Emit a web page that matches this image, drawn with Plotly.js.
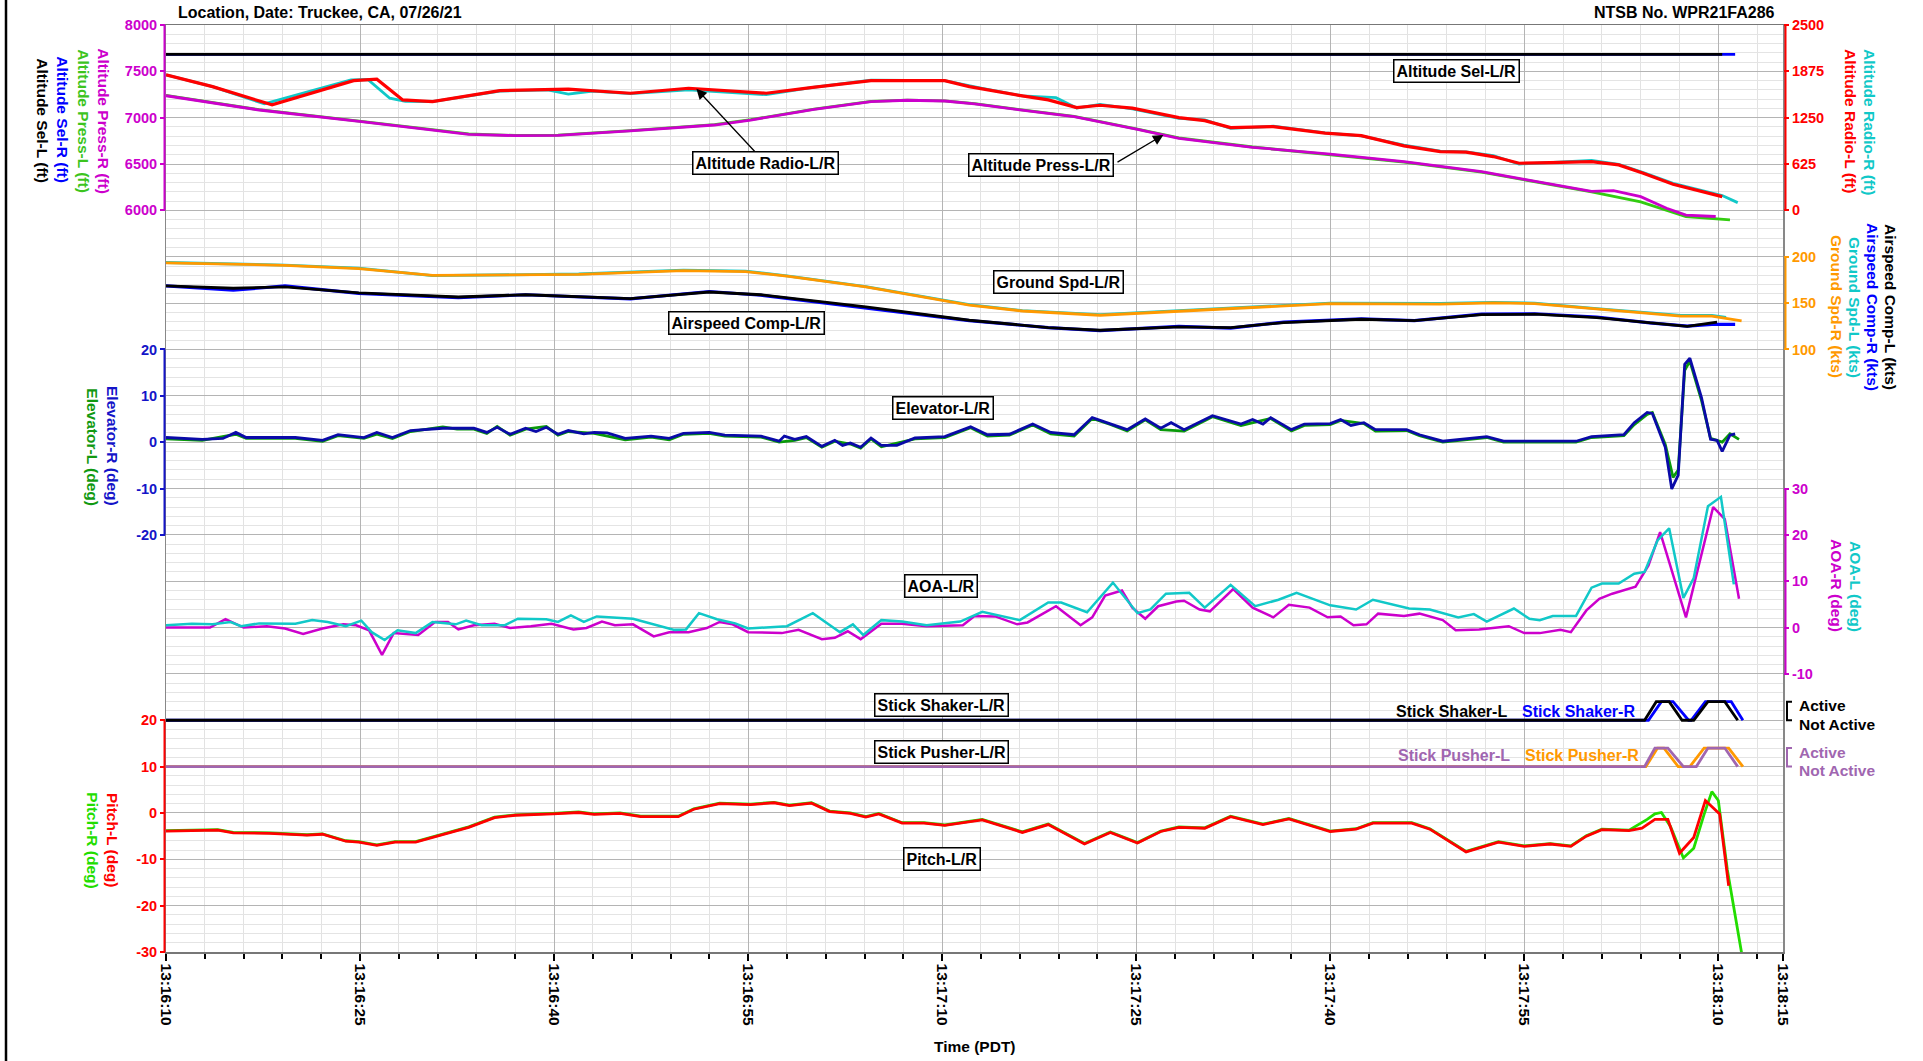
<!DOCTYPE html>
<html><head><meta charset="utf-8">
<script src="https://cdn.plot.ly/plotly-3.0.1.min.js"></script>
<style>html,body{margin:0;padding:0;background:#fff;}#chart{width:1923px;height:1061px;}</style>
</head><body><div id="chart"></div>
<script>
// ---------- time axis (seconds after 13:16:10) ----------
const TICK_SEC = [0, 15, 30, 45, 60, 75, 90, 105, 120, 125];
const TICK_LABELS = ['13:16:10','13:16:25','13:16:40','13:16:55','13:17:10','13:17:25','13:17:40','13:17:55','13:18:10','13:18:15'];

// ---------- axis tick values ----------
const ALT_TICKS = [6000, 6500, 7000, 7500, 8000];
const RADIO_TICKS = [0, 625, 1250, 1875, 2500];
const SPD_TICKS = [100, 150, 200];
const ELEV_TICKS = [-20, -10, 0, 10, 20];
const AOA_TICKS = [-10, 0, 10, 20, 30];
const PITCH_TICKS = [-30, -20, -10, 0, 10, 20];

// ---------- Altitude Sel (ft) ----------
const ALT_SEL_L_T = [0, 120.3];
const ALT_SEL_L = [7684, 7684];
const ALT_SEL_R_T = [0, 121.3];
const ALT_SEL_R = [7684, 7684];

// ---------- Altitude Press (ft) ----------
const PRESS_R_T = [0, 7.2, 15.1, 18.1, 23.4, 27, 30.3, 35.9, 42.4, 45.2, 50.1, 54.5, 57.3, 60.2, 62.5, 66, 70.2, 75.1, 78.3, 84, 90, 95.7, 101.7, 105, 110.2, 111.9, 114, 116, 117.5, 119.8];
const PRESS_R = [7237, 7083, 6957, 6910, 6821, 6806, 6810, 6857, 6921, 6975, 7090, 7173, 7188, 7180, 7150, 7085, 7011, 6875, 6778, 6681, 6608, 6525, 6418, 6335, 6205, 6213, 6148, 6023, 5950, 5934];
const PRESS_L_T = [0, 7.2, 15.1, 18.1, 23.4, 27, 30.3, 35.9, 42.4, 45.2, 50.1, 54.5, 57.3, 60.2, 62.5, 66, 70.2, 75.1, 78.3, 84, 90, 95.7, 101.7, 105, 110.2, 114, 117.5, 120.9];
const PRESS_L = [7240, 7086, 6960, 6914, 6825, 6808, 6812, 6860, 6925, 6978, 7093, 7176, 7190, 7182, 7152, 7088, 7014, 6878, 6782, 6684, 6602, 6520, 6412, 6330, 6200, 6092, 5934, 5897];

// ---------- Altitude Radio (ft) ----------
const RADIO_L_T = [0, 3.6, 8.2, 14.5, 16.3, 18.3, 20.6, 25.8, 31.1, 35.9, 40.4, 46.4, 50, 54.5, 60.2, 62.1, 66.2, 68.2, 70.4, 72.2, 74.7, 78.3, 80.3, 82.3, 85.6, 89.6, 92.4, 95.7, 98.5, 100.5, 102.6, 104.6, 107, 110.2, 112.3, 114.2, 116.5, 118.5, 120.3];
const RADIO_L = [1827, 1669, 1423, 1750, 1769, 1490, 1467, 1615, 1634, 1580, 1647, 1580, 1660, 1750, 1750, 1669, 1544, 1490, 1386, 1418, 1378, 1251, 1211, 1117, 1130, 1041, 1009, 870, 793, 786, 726, 636, 645, 658, 614, 502, 353, 267, 186];
const RADIO_R_T = [0, 3.6, 7.6, 14.3, 15.6, 17.3, 18.5, 20.6, 25.8, 29.5, 31.1, 33, 35.9, 40.4, 46.4, 50, 54.5, 60.2, 63.0, 66.2, 68.8, 70.4, 72.2, 74.7, 78.3, 80.3, 82.3, 85.6, 89.6, 92.4, 95.7, 98.5, 100.5, 102.6, 104.6, 107, 110.2, 112.3, 114.2, 116.5, 118.5, 120.3, 121.5];
const RADIO_R = [1827, 1669, 1437, 1760, 1765, 1513, 1470, 1467, 1610, 1625, 1567, 1610, 1575, 1625, 1560, 1660, 1755, 1750, 1650, 1544, 1520, 1380, 1430, 1370, 1240, 1220, 1105, 1135, 1045, 1005, 880, 800, 790, 740, 625, 650, 675, 620, 510, 365, 275, 200, 105];

// ---------- Ground Spd (kts) ----------
const GSPD_R_T = [0, 9.2, 14.9, 20.6, 31.9, 40, 44.8, 48, 54.1, 62.1, 66.2, 72.2, 78.3, 84, 90, 98.5, 102.6, 105.8, 110.6, 117.1, 119.5, 121.8];
const GSPD_R = [193.3, 190.8, 187.2, 180, 181, 185, 184, 179, 167.4, 147.7, 141.5, 136.9, 141.2, 145.5, 149.5, 149, 150.2, 149.5, 143.5, 136, 136, 130.8];
const GSPD_L_T = [0, 9.2, 14.9, 20.6, 31.9, 40, 44.8, 48, 54.1, 62.1, 66.2, 72.2, 78.3, 84, 90, 98.5, 102.6, 105.8, 110.6, 117.1, 119.5, 120.6];
const GSPD_L = [193.8, 191, 187.8, 179.6, 181.4, 185.5, 184.6, 179.4, 167.9, 148.3, 141.9, 137.5, 141.8, 146, 150, 149.6, 150.8, 150, 144, 136.7, 136.8, 134.5];

// ---------- Airspeed Comp (kts) ----------
const ASPD_L_T = [0, 5.2, 9.2, 14.9, 22.6, 27.8, 35.9, 42, 46, 54.1, 62.1, 68.2, 72.2, 78.3, 82.3, 86.4, 92.4, 96.5, 101.7, 105.8, 110.6, 114.7, 117.6, 119.9];
const ASPD_L = [168.5, 166, 167.6, 161, 156.6, 159, 154.9, 162, 159, 145.9, 131.5, 123.6, 120.7, 124.3, 123.6, 129, 132.6, 131, 137.5, 138, 134.4, 128.6, 125, 129.5];
const ASPD_R_T = [0, 5.2, 9.2, 14.9, 22.6, 27.8, 35.9, 42, 46, 54.1, 62.1, 68.2, 72.2, 78.3, 82.3, 86.4, 92.4, 96.5, 101.7, 105.8, 110.6, 114.7, 117.6, 119.5, 121.3];
const ASPD_R = [168.5, 163.9, 168.5, 160.5, 156, 159, 154.5, 162.5, 158.5, 145, 131, 123.6, 120.2, 124.8, 123, 129.5, 133, 131, 138, 138.5, 135, 128.6, 125.2, 127, 127];

// ---------- Elevator (deg) ----------
const ELEV_R_T = [0, 2.8, 4.4, 5.4, 6.2, 10, 12.1, 13.3, 15.3, 16.3, 17.5, 18.9, 21.4, 23.8, 24.8, 25.6, 26.6, 27.8, 28.6, 29.4, 30.3, 31.1, 32.3, 33.1, 34.1, 35.5, 37.5, 38.9, 40, 42, 43.2, 46, 47.4, 47.8, 48.6, 49.5, 50.7, 51.7, 52.3, 52.9, 53.7, 54.5, 55.3, 56.5, 57.9, 60.2, 62.2, 63.5, 65.2, 67, 68.4, 70.2, 71.6, 73, 74.3, 75.7, 76.9, 77.7, 78.7, 80.9, 83.1, 84, 84.8, 85.4, 87, 88, 90, 90.8, 91.6, 92.6, 93.5, 95.9, 96.9, 98.7, 102.1, 103.4, 109, 110.2, 112.7, 113.5, 114.5, 114.9, 115.9, 116.4, 116.9, 117.4, 117.8, 118.7, 119.4, 119.9, 120.3, 120.9, 121.3];
const ELEV_R = [1.0, 0.6, 0.8, 2.1, 1.0, 1.0, 0.4, 1.6, 1.0, 2.1, 1.0, 2.5, 3.0, 3.0, 2.1, 3.2, 1.7, 3.0, 2.3, 3.2, 1.7, 2.5, 1.8, 2.1, 2.0, 0.8, 1.3, 0.8, 1.9, 2.1, 1.5, 1.3, 0.2, 1.3, 0.6, 1.2, -0.9, 0.4, -0.7, -0.2, -1.1, 0.9, -0.7, -0.7, 0.9, 1.2, 3.3, 1.6, 1.7, 3.9, 2.1, 1.6, 5.3, 4.0, 2.7, 5.0, 3.0, 4.2, 2.7, 5.7, 3.9, 4.9, 3.9, 5.3, 2.7, 3.9, 4.0, 4.9, 3.6, 4.2, 2.7, 2.7, 1.6, 0.2, 1.2, 0.2, 0.2, 1.2, 1.6, 4.2, 6.4, 6.2, -1.1, -10.1, -7.1, 16.8, 18.1, 9.6, 0.6, 0.4, -2.0, 1.5, 1.8];
const ELEV_L_T = [0, 2.8, 5.4, 6.2, 10, 12.1, 13.3, 15.3, 16.3, 17.5, 18.9, 21.4, 22.5, 23.8, 24.8, 25.6, 26.6, 27.8, 29.4, 30.3, 31.1, 33.1, 35.5, 37.5, 38.9, 40, 42, 43.2, 46, 47.4, 48.6, 49.5, 50.7, 51.7, 52.9, 53.7, 54.5, 55.3, 57.9, 60.2, 62.2, 63.5, 65.2, 67, 68.4, 70.2, 71.6, 73, 74.3, 75.7, 76.9, 78.7, 80.9, 83.1, 85.4, 87, 88, 90, 90.8, 92.6, 93.5, 95.9, 96.9, 98.7, 102.1, 103.4, 109, 110.2, 112.7, 113.5, 114.5, 114.9, 115.9, 116.5, 116.9, 117.4, 117.8, 118.7, 119.4, 120.3, 120.9, 121.6];
const ELEV_L = [0.7, 0.4, 1.7, 0.8, 0.8, 0.2, 1.4, 0.8, 1.7, 0.8, 2.3, 3.3, 2.8, 2.8, 1.9, 3.4, 1.5, 2.8, 3.4, 1.5, 2.3, 1.9, 0.5, 1.1, 0.5, 1.7, 1.9, 1.3, 1.1, 0.0, 0.4, 1.0, -1.1, 0.2, -0.4, -1.3, 0.7, -1.0, 0.7, 1.0, 3.1, 1.3, 1.5, 3.7, 1.8, 1.3, 5.1, 3.8, 2.4, 4.8, 2.7, 2.4, 5.5, 3.6, 5.1, 2.4, 3.6, 3.8, 4.7, 4.0, 2.4, 2.5, 1.4, 0.0, 1.0, 0.0, 0.0, 1.0, 1.4, 3.8, 6.0, 6.4, -0.5, -7.6, -6.0, 15.5, 17.5, 9.0, 0.8, 0.0, 1.8, 0.6];

// ---------- AOA (deg) ----------
const AOA_R_T = [0, 3.4, 4.6, 6, 7.8, 9.2, 10.6, 12.1, 13.7, 14.7, 15.7, 16.7, 17.6, 19.5, 20.8, 21.8, 22.6, 23.8, 25.4, 26.6, 28.2, 29.8, 31.5, 32.5, 33.7, 34.7, 36.1, 37.7, 38.9, 40.4, 41.8, 42.8, 43.8, 45, 47.6, 48.9, 50.7, 51.7, 52.7, 53.7, 55.3, 56.9, 58.8, 61.6, 62.5, 64.1, 65.8, 66.6, 68.8, 70.7, 71.6, 72.6, 73.9, 74.7, 75.7, 76.7, 78.1, 78.7, 79.9, 80.7, 82.5, 84, 85.6, 86.8, 88.4, 89.8, 90.8, 91.8, 92.8, 93.7, 95.7, 96.9, 98.7, 99.7, 101.5, 103.8, 105, 106.2, 107.8, 108.6, 109.8, 110.8, 111.8, 113.6, 114.6, 115.5, 117.5, 119.6, 120.5, 121.6];
const AOA_R = [0, 0, 1.8, 0, 0.3, -0.2, -1.4, -0.2, 0.7, 0.5, -0.6, -5.9, -1.2, -1.6, 1.2, 1.2, -0.4, 0.5, 0.8, -0.1, 0.3, 0.8, -0.4, -0.1, 1.3, 0.5, 0.7, -1.9, -1.0, -1.0, -0.1, 1.2, 0.7, -1.0, -1.2, -0.5, -2.5, -2.2, -0.8, -2.5, 0.8, 0.8, 0.3, 0.5, 2.5, 2.4, 0.7, 1.1, 4.6, 0.5, 2.2, 6.9, 8.0, 4.3, 1.9, 4.6, 5.6, 5.8, 3.9, 3.5, 8.3, 4.3, 2.2, 4.9, 4.3, 2.2, 2.4, 0.5, 0.7, 3.0, 2.5, 3.0, 1.6, -0.6, -0.4, 0.3, -1.2, -1.2, -0.5, -1.0, 3.7, 6.2, 7.3, 8.8, 13.4, 20.6, 2.2, 26.0, 23.4, 6.2];
const AOA_L_T = [0, 2, 3.6, 5, 5.8, 7.2, 10, 11.3, 12.5, 13.9, 15.1, 15.9, 16.9, 17.9, 19.3, 20.6, 22.4, 23.2, 24.4, 26.2, 27.2, 29.4, 30.3, 31.3, 32.3, 33.3, 36.1, 37.5, 39.3, 40.2, 41.2, 42.6, 44, 45, 48, 50, 52.1, 53.1, 53.9, 55.3, 56.9, 58.8, 61.4, 63.1, 66, 68.2, 69.2, 71.2, 73.2, 75.1, 76.1, 77.3, 79.1, 80.3, 82.3, 84.2, 86, 87.4, 90, 92, 93.3, 96.1, 97.7, 99.9, 101.1, 102.1, 104.2, 105.4, 106.2, 107.2, 109, 110.2, 111, 112.3, 113.5, 114.3, 115.3, 116.2, 117.3, 118.1, 119.2, 120.2, 121.2];
const AOA_L = [0.5, 0.8, 0.7, 1.2, 0.3, 0.9, 0.8, 1.6, 1.2, 0.3, 1.5, -1.0, -2.7, -0.6, -1.2, 1.2, 0.7, 1.5, 0.5, 0.5, 1.9, 1.8, 1.2, 2.6, 1.2, 2.4, 1.9, 0.9, -0.5, -0.4, 3.1, 1.8, 0.9, -0.2, 0.3, 3.1, -1.0, 0.7, -1.6, 1.6, 1.3, 0.5, 1.3, 3.4, 1.6, 5.4, 5.4, 3.3, 9.7, 3.1, 3.9, 7.3, 7.5, 4.3, 9.2, 4.6, 6.0, 7.5, 4.8, 3.9, 6.0, 4.1, 3.9, 2.2, 2.9, 1.3, 4.1, 1.9, 1.6, 2.5, 2.5, 8.6, 9.5, 9.5, 11.6, 12.0, 18.8, 21.4, 6.4, 10.7, 26.2, 28.2, 9.3];

// ---------- Stick Shaker / Pusher (0 = Not Active, 1 = Active) ----------
const SHAKER_L_T = [0, 114.3, 115.2, 116.2, 117.2, 118.1, 119.2, 120.5, 121.5];
const SHAKER_L = [0, 0, 1, 1, 0, 0, 1, 1, 0];
const SHAKER_R_T = [0, 114.6, 115.6, 116.5, 117.7, 117.9, 119.0, 121.0, 121.9];
const SHAKER_R = [0, 0, 1, 1, 0, 0, 1, 1, 0];
const PUSHER_L_T = [0, 114.3, 115.1, 116.1, 117.3, 118.3, 119.2, 120.5, 121.5];
const PUSHER_L = [0, 0, 1, 1, 0, 0, 1, 1, 0];
const PUSHER_R_T = [0, 114.4, 115.3, 115.8, 116.9, 117.8, 118.9, 120.8, 121.9];
const PUSHER_R = [0, 0, 1, 1, 0, 0, 1, 1, 0];

// ---------- Pitch (deg) ----------
const PITCH_L_T = [0, 4, 5.2, 8, 10.9, 12.1, 13.9, 14.9, 16.3, 17.7, 19.3, 20.9, 23.4, 25.4, 27, 29.9, 31.9, 33.1, 35.1, 36.7, 39.6, 40.8, 42.8, 45.2, 47, 48.2, 49.9, 51.3, 52.9, 54.1, 55.1, 56.9, 58.6, 60.2, 63.1, 66.2, 68.2, 71, 73, 75.1, 76.9, 78.3, 80.3, 82.3, 84.8, 86.8, 90, 92, 93.3, 96.3, 97.7, 100.5, 103, 105, 107, 108.6, 109.8, 111, 113.1, 114.1, 115.1, 116.1, 117, 118.1, 119, 120.1, 120.8];
const PITCH_L = [-3.9, -3.7, -4.3, -4.4, -4.8, -4.6, -6.1, -6.3, -7.0, -6.3, -6.3, -5.0, -3.1, -1.0, -0.5, -0.2, 0.1, -0.3, -0.1, -0.8, -0.8, 0.8, 2.0, 1.8, 2.2, 1.6, 2.1, 0.3, -0.1, -0.9, -0.2, -2.2, -2.2, -2.7, -1.5, -4.2, -2.5, -6.7, -4.2, -6.5, -4.0, -3.1, -3.3, -0.8, -2.5, -1.3, -4.0, -3.5, -2.2, -2.2, -3.5, -8.4, -6.3, -7.2, -6.7, -7.2, -5.0, -3.6, -3.8, -3.3, -1.4, -1.4, -8.7, -5.3, 2.7, -0.2, -15.7];
const PITCH_R_T = [0, 4, 5.2, 8, 10.9, 12.1, 13.9, 14.9, 16.3, 17.7, 19.3, 20.9, 23.4, 25.4, 27, 29.9, 31.9, 33.1, 35.1, 36.7, 39.6, 40.8, 42.8, 45.2, 47, 48.2, 49.9, 51.3, 52.9, 54.1, 55.1, 56.9, 58.6, 60.2, 63.1, 66.2, 68.2, 71, 73, 75.1, 76.9, 78.3, 80.3, 82.3, 84.8, 86.8, 90, 92, 93.3, 96.3, 97.7, 100.5, 103, 105, 107, 108.6, 109.8, 111, 113.1, 114.5, 115.1, 115.6, 116.3, 117.3, 118.1, 118.9, 119.5, 120, 120.7, 121.8];
const PITCH_R = [-3.8, -3.6, -4.2, -4.3, -4.7, -4.5, -6.0, -6.2, -6.9, -6.2, -6.2, -4.9, -3.0, -0.9, -0.4, -0.1, 0.2, -0.2, 0.0, -0.7, -0.7, 0.9, 2.1, 1.9, 2.3, 1.7, 2.2, 0.4, 0.0, -0.8, -0.1, -2.1, -2.1, -2.6, -1.4, -4.1, -2.4, -6.6, -4.1, -6.4, -3.9, -3.0, -3.2, -0.7, -2.4, -1.2, -3.9, -3.4, -2.1, -2.1, -3.4, -8.3, -6.2, -7.1, -6.6, -7.1, -4.9, -3.5, -3.7, -1.4, -0.2, 0.1, -2.9, -9.7, -7.6, -0.3, 4.6, 2.7, -12.3, -30.2];

// ================= layout geometry =================
const FONT = 'Liberation Sans, Arial, Helvetica, sans-serif';
const L = 166, R = 1783, T = 25, B = 952, W = R - L, H = B - T;
const ROWS = 20, X_END = 125;
const px = x => (x - L) / W;
const py = y => (B - y) / H;
function rowRange(v0, row0, perRow) { return [v0 - row0 * perRow, v0 + (ROWS - row0) * perRow]; }
const frac = (rg, v) => (v - rg[0]) / (rg[1] - rg[0]);
const yPix = (rg, v) => B - frac(rg, v) * H;
const xPix = t => L + t / X_END * W;
function interp(ts, vs, t) {
  for (let i = 1; i < ts.length; i++) if (t <= ts[i]) { const f = (t - ts[i-1]) / (ts[i] - ts[i-1]); return vs[i-1] + f * (vs[i] - vs[i-1]); }
  return vs[vs.length - 1];
}

const RG_ALT = rowRange(6000, 16, 500);
const RG_RADIO = rowRange(0, 16, 625);
const RG_SPD = rowRange(100, 13, 50);
const RG_ELEV = rowRange(-20, 9, 10);
const RG_AOA = rowRange(-10, 6, 10);
const RG_SHAKER = rowRange(0, 5, 2.5);
const RG_PUSHER = rowRange(0, 4, 2.5);
const RG_PITCH = rowRange(-30, 0, 10);

const C = {
  mag: '#cc00cc', green: '#33cc11', cyan: '#11c8c8', red: '#ff0000', blue: '#0000ff',
  navy: '#0a0aa8', dgreen: '#0a9a0a', orange: '#ff9900', purple: '#a066b0', pgreen: '#22dd00', black: '#000000'
};

const MINOR = [];
for (let s = 0; s <= 123; s += 3) MINOR.push(s);

function ln(x, y, axis, color, width) {
  return { type: 'scatter', mode: 'lines', x, y, xaxis: 'x', yaxis: axis, line: { color, width: width || 2.8 }, hoverinfo: 'skip', showlegend: false };
}

const data = [
  { type: 'scatter', mode: 'lines', x: [], y: [], xaxis: 'x', yaxis: 'y', hoverinfo: 'skip', showlegend: false },
  ln(ALT_SEL_R_T, ALT_SEL_R, 'y2', C.blue, 2.8),
  ln(ALT_SEL_L_T, ALT_SEL_L, 'y2', C.black, 2.8),
  ln(PRESS_L_T, PRESS_L, 'y2', C.green, 2.8),
  ln(PRESS_R_T, PRESS_R, 'y2', C.mag, 2.8),
  ln(RADIO_R_T, RADIO_R, 'y3', C.cyan, 2.8),
  ln(RADIO_L_T, RADIO_L, 'y3', C.red, 3.2),
  ln(GSPD_L_T, GSPD_L, 'y4', C.cyan, 2.8),
  ln(GSPD_R_T, GSPD_R, 'y4', C.orange, 2.8),
  ln(ASPD_R_T, ASPD_R, 'y4', C.blue, 3.2),
  ln(ASPD_L_T, ASPD_L, 'y4', C.black, 2.8),
  ln(ELEV_L_T, ELEV_L, 'y5', C.dgreen, 2.8),
  ln(ELEV_R_T, ELEV_R, 'y5', C.navy, 2.8),
  ln(AOA_R_T, AOA_R, 'y6', C.mag, 2.5),
  ln(AOA_L_T, AOA_L, 'y6', C.cyan, 2.5),
  ln(SHAKER_R_T, SHAKER_R, 'y7', C.blue, 2.8),
  ln(SHAKER_L_T, SHAKER_L, 'y7', C.black, 2.8),
  ln(PUSHER_R_T, PUSHER_R, 'y8', C.orange, 2.8),
  ln(PUSHER_L_T, PUSHER_L, 'y8', C.purple, 2.8),
  ln(PITCH_R_T, PITCH_R, 'y9', C.pgreen, 2.8),
  ln(PITCH_L_T, PITCH_L, 'y9', C.red, 2.8)
];

function ovAxis(range, side, tickvals, color) {
  return {
    overlaying: 'y', side, anchor: 'x', range, tickmode: 'array', tickvals, ticktext: tickvals.map(String),
    ticks: 'outside', ticklen: 5, tickwidth: 2, tickcolor: color,
    tickfont: { family: FONT, size: 14.5, color, weight: 'bold' },
    showgrid: false, zeroline: false, showline: false, fixedrange: true
  };
}
function hidAxis(range) {
  return { overlaying: 'y', side: 'right', anchor: 'x', range, showticklabels: false, ticks: '', showgrid: false, zeroline: false, showline: false, fixedrange: true };
}

const XL = px(164.5), XR = px(1785.5);
function axLine(x, rg, v0, v1, color) {
  return { type: 'line', xref: 'paper', yref: 'paper', x0: x, x1: x, y0: frac(rg, v0), y1: frac(rg, v1), line: { color, width: 2 } };
}
function bracket(rg, color) {
  const x0 = px(1787), x1 = px(1792), y0 = frac(rg, 0), y1 = frac(rg, 1);
  return { type: 'path', xref: 'paper', yref: 'paper', path: `M ${x1} ${y1} L ${x0} ${y1} L ${x0} ${y0} L ${x1} ${y0}`, line: { color, width: 2 } };
}
const shapes = [
  axLine(XL, RG_ALT, 6000, 8000, C.mag),
  axLine(XR, RG_RADIO, 0, 2500, C.red),
  axLine(XR, RG_SPD, 100, 200, C.orange),
  axLine(XL, RG_ELEV, -20, 20, '#1414c8'),
  axLine(XR, RG_AOA, -10, 30, C.mag),
  axLine(XL, RG_PITCH, -30, 20, C.red),
  bracket(RG_SHAKER, C.black),
  bracket(RG_PUSHER, C.purple),
  { type: 'line', xref: 'paper', yref: 'paper', x0: px(6), x1: px(6), y0: py(1061), y1: py(0), line: { color: '#000', width: 2.5 } }
];

function vlabel(text, x, y, color) {
  return { xref: 'paper', yref: 'paper', x: px(x), y: py(y), text, showarrow: false, textangle: 90,
    xanchor: 'center', yanchor: 'middle', font: { family: FONT, size: 15.5, color, weight: 'bold' } };
}
function boxed(text, x, y) {
  return { xref: 'paper', yref: 'paper', x: px(x), y: py(y), text, showarrow: false, xanchor: 'center', yanchor: 'middle',
    bordercolor: '#000', borderwidth: 1.5, borderpad: 2, bgcolor: '#fff', font: { family: FONT, size: 16, color: '#000', weight: 'bold' } };
}
function plain(text, x, y, color, anchor, size) {
  return { xref: 'paper', yref: 'paper', x: px(x), y: py(y), text, showarrow: false, xanchor: anchor || 'center', yanchor: 'middle',
    font: { family: FONT, size: size || 16, color, weight: 'bold' } };
}

const radioTipT = 41, radioTipV = interp(RADIO_L_T, RADIO_L, radioTipT);
const pressTipT = 77.1, pressTipV = interp(PRESS_R_T, PRESS_R, pressTipT);

const annotations = [
  plain('Location, Date: Truckee, CA, 07/26/21', 176, 13, '#000', 'left', 16),
  plain('NTSB No. WPR21FA286', 1777, 13, '#000', 'right', 16),
  vlabel('Altitude Press-R (ft)', 102.7, 121, C.mag),
  vlabel('Altitude Press-L (ft)', 82.7, 121, '#3cc41e'),
  vlabel('Altitude Sel-R (ft)', 61.7, 120, C.blue),
  vlabel('Altitude Sel-L (ft)', 41.7, 121, '#000'),
  vlabel('Elevator-R (deg)', 113, 446, '#1414c8'),
  vlabel('Elevator-L (deg)', 92.7, 447, '#119911'),
  vlabel('Pitch-L (deg)', 113, 840, C.red),
  vlabel('Pitch-R (deg)', 92.7, 840, C.pgreen),
  vlabel('Altitude Radio-L (ft)', 1850, 121, C.red),
  vlabel('Altitude Radio-R (ft)', 1870, 122, C.cyan),
  vlabel('Ground Spd-R (kts)', 1837, 307, C.orange),
  vlabel('Ground Spd-L (kts)', 1855, 307, C.cyan),
  vlabel('Airspeed Comp-R (kts)', 1873, 307, C.blue),
  vlabel('Airspeed Comp-L (kts)', 1891, 307, '#000'),
  vlabel('AOA-R (deg)', 1837, 586, C.mag),
  vlabel('AOA-L (deg)', 1856, 586, C.cyan),
  boxed('Altitude Sel-L/R', 1456, 71),
  boxed('Altitude Press-L/R', 1041, 165.5),
  boxed('Ground Spd-L/R', 1058, 282),
  boxed('Airspeed Comp-L/R', 746.5, 322.7),
  boxed('Elevator-L/R', 943, 408),
  boxed('AOA-L/R', 941, 586.5),
  boxed('Stick Shaker-L/R', 941, 704.6),
  boxed('Stick Pusher-L/R', 941, 751.5),
  boxed('Pitch-L/R', 942, 859),
  {
    xref: 'x', yref: 'y3', x: radioTipT, y: radioTipV, text: 'Altitude Radio-L/R', showarrow: true,
    axref: 'pixel', ayref: 'pixel', ax: 765 - xPix(radioTipT), ay: 162.5 - yPix(RG_RADIO, radioTipV),
    arrowhead: 2, arrowsize: 1.6, arrowwidth: 1.3, arrowcolor: '#000', standoff: 0,
    bordercolor: '#000', borderwidth: 1.5, borderpad: 2, bgcolor: '#fff',
    font: { family: FONT, size: 16, color: '#000', weight: 'bold' }
  },
  {
    xref: 'x', yref: 'y2', x: pressTipT, y: pressTipV, text: '', showarrow: true,
    axref: 'pixel', ayref: 'pixel', ax: 1116 - xPix(pressTipT), ay: 163 - yPix(RG_ALT, pressTipV),
    arrowhead: 2, arrowsize: 1.6, arrowwidth: 1.3, arrowcolor: '#000', standoff: 0
  },
  plain('Stick Shaker-L', 1451, 711, '#000'),
  plain('Stick Shaker-R', 1578.5, 711, C.blue),
  plain('Stick Pusher-L', 1454, 755, C.purple),
  plain('Stick Pusher-R', 1581.5, 755, C.orange),
  plain('Active', 1797, yPix(RG_SHAKER, 1) + 4, '#000', 'left', 15.5),
  plain('Not Active', 1797, yPix(RG_SHAKER, 0) + 4, '#000', 'left', 15.5),
  plain('Active', 1797, yPix(RG_PUSHER, 1) + 4, C.purple, 'left', 15.5),
  plain('Not Active', 1797, yPix(RG_PUSHER, 0) + 4, C.purple, 'left', 15.5),
  plain('Time (PDT)', 975, 1046, '#000', 'center', 15.5)
];

const layout = {
  width: 1923, height: 1061,
  margin: { l: L, r: 1923 - R, t: T, b: 1061 - B, pad: 0 },
  paper_bgcolor: '#fff', plot_bgcolor: '#fff', showlegend: false,
  font: { family: FONT, size: 14, color: '#000' },
  xaxis: {
    anchor: 'y',
    range: [0, X_END], tickmode: 'array', tickvals: TICK_SEC, ticktext: TICK_LABELS, tickangle: 90,
    ticks: 'outside', ticklen: 7, tickwidth: 2, tickcolor: '#000',
    tickfont: { family: FONT, size: 15.5, color: '#000', weight: 'bold' },
    showgrid: true, gridcolor: '#b4b4b4', gridwidth: 1,
    minor: { tickvals: MINOR, ticks: 'outside', ticklen: 5, tickwidth: 2, tickcolor: '#000', showgrid: true, gridcolor: '#e2e2e2', gridwidth: 1 },
    showline: true, linecolor: '#777', linewidth: 1.5, mirror: true, zeroline: false, fixedrange: true
  },
  yaxis: {
    anchor: 'x',
    range: [0, ROWS], tickmode: 'linear', tick0: 0, dtick: 1, showticklabels: false, ticks: '',
    showgrid: true, gridcolor: '#b4b4b4', gridwidth: 1,
    minor: { tick0: 0, dtick: 0.2, showgrid: true, gridcolor: '#e4e4e4', gridwidth: 1 },
    showline: true, linecolor: '#888', linewidth: 1.5, mirror: true, zeroline: false, fixedrange: true
  },
  yaxis2: ovAxis(RG_ALT, 'left', ALT_TICKS, C.mag),
  yaxis3: ovAxis(RG_RADIO, 'right', RADIO_TICKS, C.red),
  yaxis4: ovAxis(RG_SPD, 'right', SPD_TICKS, C.orange),
  yaxis5: ovAxis(RG_ELEV, 'left', ELEV_TICKS, '#1414c8'),
  yaxis6: ovAxis(RG_AOA, 'right', AOA_TICKS, C.mag),
  yaxis7: hidAxis(RG_SHAKER),
  yaxis8: hidAxis(RG_PUSHER),
  yaxis9: ovAxis(RG_PITCH, 'left', PITCH_TICKS, C.red),
  shapes, annotations
};

Plotly.newPlot('chart', data, layout, { staticPlot: true, displayModeBar: false });
</script></body></html>
